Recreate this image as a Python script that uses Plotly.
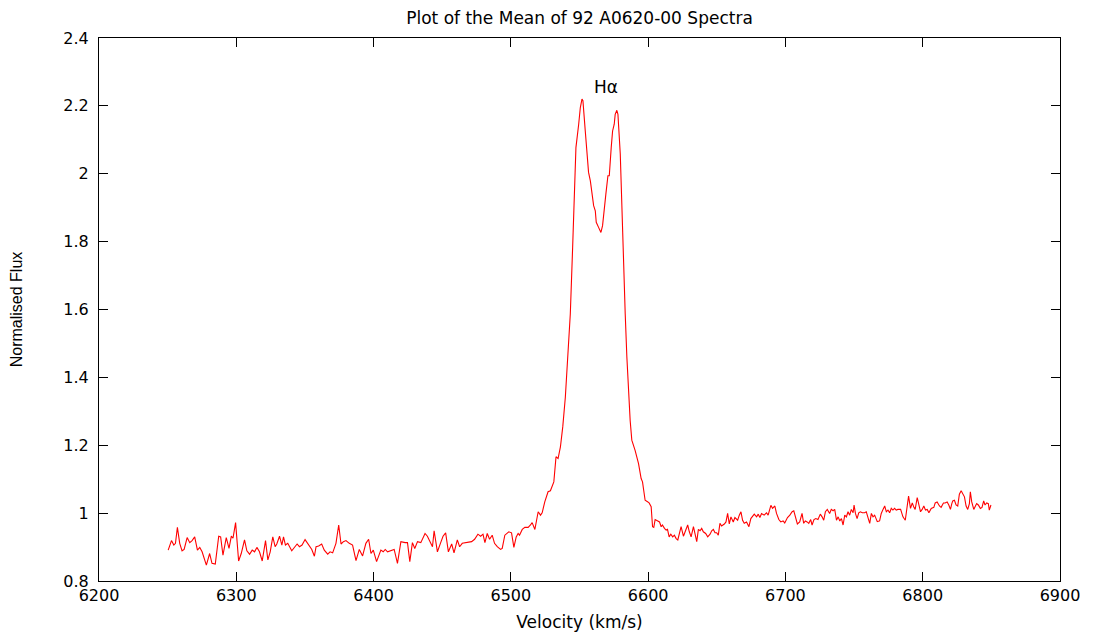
import plotly.graph_objects as go

# Mean spectrum
velocity = [
    6250.4, 6252.8, 6254.5, 6255.7, 6257.1, 6258.8, 6260.5, 6262.0, 6264.2, 6266.1,
    6267.8, 6269.7, 6271.7, 6273.4, 6275.1, 6278.2, 6280.6, 6282.3, 6284.7, 6287.2,
    6288.6, 6290.3, 6292.7, 6294.7, 6296.4, 6297.6, 6299.5, 6301.7, 6303.6, 6306.0,
    6307.7, 6309.7, 6311.6, 6313.3, 6315.0, 6316.9, 6318.9, 6321.3, 6323.0, 6324.7,
    6326.6, 6328.3, 6329.5, 6331.5, 6333.2, 6334.4, 6335.8, 6337.5, 6340.4, 6342.4,
    6344.3, 6346.0, 6347.9, 6350.1, 6352.5, 6355.0, 6356.9, 6358.1, 6360.0, 6362.2,
    6364.1, 6366.6, 6368.3, 6370.2, 6372.6, 6374.6,
    6376.3, 6378.0, 6379.9, 6382.3, 6384.7, 6387.2, 6389.6, 6392.0, 6394.4, 6396.4,
    6398.1, 6399.8, 6402.2, 6405.3, 6407.0, 6408.5, 6410.2, 6412.6, 6415.0, 6417.4,
    6419.9, 6423.0, 6424.7, 6426.4, 6428.3, 6430.0, 6432.0, 6434.4, 6437.5, 6439.2,
    6440.4, 6442.9, 6444.1, 6446.5, 6448.9, 6450.6, 6452.5, 6454.5, 6456.9, 6458.6,
    6461.0, 6462.7, 6464.6, 6467.1, 6469.0, 6471.4, 6473.6, 6476.0, 6478.0, 6479.7,
    6481.1, 6482.8, 6484.5, 6486.4, 6488.1, 6490.1, 6492.5, 6493.7, 6495.6, 6498.5,
    6500.5, 6502.2, 6503.9, 6505.3, 6506.3, 6508.3, 6510.2, 6512.6, 6514.3, 6515.5,
    6517.5, 6519.9, 6521.6, 6522.8, 6524.7, 6527.1, 6528.8, 6530.5, 6531.3, 6532.9,
    6534.4, 6536.1, 6537.8, 6539.7, 6541.6, 6543.3, 6545.0, 6546.5, 6547.4, 6549.4,
    6550.6, 6551.8, 6552.5, 6554.2, 6555.4, 6556.6, 6557.9, 6559.1, 6560.3, 6561.5,
    6562.2, 6563.9, 6565.6, 6566.8, 6568.3, 6569.2, 6570.7, 6571.7, 6573.1, 6574.1,
    6575.3, 6576.0, 6577.2, 6578.0, 6579.7, 6580.9, 6582.1, 6583.3, 6584.5, 6585.7,
    6586.9, 6588.1, 6590.5, 6593.0, 6594.9, 6595.9, 6597.8, 6599.8,
    6600.7, 6602.2, 6603.2, 6604.1, 6605.1, 6607.0, 6608.3, 6609.5, 6610.4, 6611.9,
    6613.1, 6614.1, 6615.3, 6616.5, 6617.9, 6619.1, 6620.4, 6621.6, 6622.5, 6624.0,
    6625.7, 6626.9, 6628.8, 6630.0, 6631.3, 6633.0, 6634.2, 6635.4, 6636.6, 6637.8,
    6639.0, 6640.2, 6641.9, 6643.4, 6645.1, 6646.3, 6647.5, 6648.7, 6649.9, 6651.1,
    6652.3, 6653.5, 6655.5, 6656.7, 6657.9, 6659.1, 6660.3, 6662.0, 6663.2, 6665.2,
    6666.4, 6667.6, 6668.8, 6670.0, 6671.7, 6673.4, 6674.8, 6676.1, 6677.3, 6679.0,
    6680.2, 6681.4, 6682.6, 6684.5, 6686.2, 6687.4, 6689.4, 6690.6, 6692.3, 6693.5,
    6695.2, 6696.6, 6698.3, 6699.5, 6701.5, 6703.2, 6704.9, 6706.1, 6707.3, 6708.7,
    6710.4, 6712.1, 6713.3, 6714.5, 6715.8, 6717.0, 6718.4, 6719.4, 6720.8, 6722.1,
    6723.7, 6725.4, 6726.7, 6727.9, 6729.1, 6730.5, 6732.2, 6733.4,
    6734.7, 6735.9, 6737.2, 6738.4, 6739.6, 6740.8, 6742.0, 6743.2, 6744.4, 6745.6,
    6746.8, 6748.0, 6749.3, 6750.0, 6751.0, 6752.2, 6753.4, 6754.6, 6756.0, 6757.7,
    6758.9, 6760.2, 6761.4, 6762.6, 6763.8, 6765.0, 6766.9, 6768.6, 6769.8, 6771.1,
    6772.3, 6773.5, 6774.7, 6775.9, 6777.1, 6778.3, 6779.5, 6780.7, 6781.9, 6783.9,
    6785.6, 6787.3, 6788.7, 6789.7, 6791.1, 6792.4, 6793.6, 6794.5, 6796.0, 6797.2,
    6798.4, 6799.6, 6800.8, 6802.0, 6803.3, 6804.5, 6806.2, 6808.1, 6809.1, 6810.5,
    6812.2, 6813.4, 6815.1, 6816.3, 6817.8, 6819.0, 6820.2, 6821.2, 6821.9, 6823.1,
    6824.3, 6825.5, 6826.7, 6828.0, 6829.2, 6830.4, 6831.6, 6832.8, 6834.0, 6834.7,
    6835.7, 6837.2, 6838.4, 6839.3, 6840.5, 6842.0, 6843.2, 6844.4, 6845.4, 6846.6,
    6847.8, 6848.5, 6849.7,
]

flux = [
    0.891, 0.919, 0.906, 0.911, 0.958, 0.911, 0.889, 0.893, 0.928, 0.913,
    0.919, 0.930, 0.891, 0.899, 0.886, 0.847, 0.881, 0.852, 0.850, 0.932,
    0.930, 0.876, 0.928, 0.896, 0.932, 0.926, 0.972, 0.859, 0.881, 0.921,
    0.889, 0.879, 0.891, 0.886, 0.899, 0.886, 0.859, 0.919, 0.862, 0.886,
    0.930, 0.901, 0.909, 0.932, 0.906, 0.930, 0.906, 0.911, 0.889, 0.901,
    0.909, 0.901, 0.906, 0.922, 0.906, 0.893, 0.873, 0.901, 0.903, 0.909,
    0.891, 0.879, 0.886, 0.883, 0.911, 0.965,
    0.909, 0.916, 0.919, 0.911, 0.906, 0.860, 0.893, 0.874, 0.911, 0.923,
    0.881, 0.891, 0.857, 0.891, 0.886, 0.893, 0.886, 0.889, 0.893, 0.852,
    0.916, 0.913, 0.913, 0.857, 0.913, 0.896, 0.916, 0.913, 0.940, 0.932,
    0.922, 0.901, 0.948, 0.886, 0.913, 0.932, 0.942, 0.886, 0.909, 0.883,
    0.921, 0.901, 0.911, 0.913, 0.916, 0.916, 0.923, 0.938, 0.932, 0.938,
    0.913, 0.940, 0.923, 0.935, 0.911, 0.901, 0.893, 0.896, 0.935, 0.945,
    0.942, 0.899, 0.930, 0.940, 0.935, 0.952, 0.958, 0.958, 0.965, 0.972,
    0.952, 1.004, 0.994, 1.001, 1.033, 1.063, 1.066, 1.087, 1.092, 1.166,
    1.161, 1.195, 1.254, 1.342, 1.460, 1.587, 1.783, 1.979, 2.077, 2.146,
    2.195, 2.220, 2.215, 2.126, 2.058, 2.004, 1.979, 1.940, 1.906, 1.891,
    1.857, 1.842, 1.827, 1.847, 1.896, 1.940, 1.994, 1.994, 2.077, 2.126,
    2.146, 2.175, 2.187, 2.175, 2.058, 1.881, 1.724, 1.587, 1.460, 1.352,
    1.273, 1.215, 1.185, 1.146, 1.102, 1.092, 1.038, 1.033,
    1.030, 1.019, 0.960, 0.958, 0.981, 0.977, 0.974, 0.960, 0.965, 0.955,
    0.950, 0.952, 0.930, 0.938, 0.930, 0.935, 0.925, 0.921, 0.935, 0.960,
    0.932, 0.945, 0.965, 0.945, 0.930, 0.960, 0.940, 0.916, 0.952, 0.948,
    0.955, 0.945, 0.940, 0.930, 0.938, 0.948, 0.952, 0.942, 0.942, 0.935,
    0.970, 0.962, 0.968, 0.974, 0.999, 0.968, 0.989, 0.974, 0.987, 0.979,
    0.994, 1.004, 0.979, 0.970, 0.974, 0.960, 0.984, 0.991, 0.997, 0.989,
    0.997, 0.987, 0.999, 0.994, 1.001, 0.994, 1.023, 1.014, 1.021, 0.999,
    0.981, 0.974, 0.977, 0.971, 0.987, 0.994, 1.004, 1.007, 0.989, 0.968,
    0.974, 0.999, 0.970, 0.977, 0.974, 0.970, 0.981, 0.965, 0.981, 0.984,
    0.981, 0.997, 0.989, 0.979, 1.004, 1.011, 0.999, 1.011,
    1.007, 1.011, 0.979, 0.989, 0.977, 0.984, 0.965, 0.994, 0.989, 1.004,
    0.994, 1.011, 1.001, 1.024, 0.999, 0.984, 1.001, 1.004, 1.001, 1.001,
    1.004, 0.989, 0.970, 0.999, 0.989, 0.994, 0.975, 0.977, 0.999, 1.011,
    1.021, 1.004, 1.009, 1.001, 1.014, 1.009, 1.014, 1.009, 1.011, 1.011,
    0.989, 0.979, 1.028, 1.050, 1.014, 1.030, 1.017, 1.011, 1.046, 1.021,
    1.004, 1.011, 1.021, 1.009, 1.011, 1.001, 1.014, 1.017, 1.030, 1.033,
    1.021, 1.017, 1.030, 1.030, 1.033, 1.024, 1.011, 1.028, 1.036, 1.038,
    1.024, 1.021, 1.056, 1.066, 1.056, 1.048, 1.021, 1.011, 1.028, 1.063,
    1.033, 1.011, 1.021, 1.028, 1.024, 1.014, 1.017, 1.036, 1.024, 1.030,
    1.028, 1.009, 1.024,
]

x_ticks = [6200, 6300, 6400, 6500, 6600, 6700, 6800, 6900]
y_ticks = [0.8, 1.0, 1.2, 1.4, 1.6, 1.8, 2.0, 2.2, 2.4]
y_tick_text = ["0.8", "1", "1.2", "1.4", "1.6", "1.8", "2", "2.2", "2.4"]

wide = "DejaVu Sans, Verdana, sans-serif"
narrow = "Liberation Sans, Arial, sans-serif"

fig = go.Figure()
fig.add_trace(go.Scatter(x=velocity, y=flux, mode="lines",
                         line=dict(color="#ff0000", width=1.1), showlegend=False))

# label over the line
fig.add_annotation(x=6569, y=2.255, text="Hα", showarrow=False,
                   font=dict(family=wide, size=17, color="black"))

axis_style = dict(showline=True, linecolor="black", linewidth=1, mirror="ticks",
                  ticks="inside", ticklen=9, tickcolor="black", showgrid=False,
                  zeroline=False, automargin=False,
                  tickfont=dict(family=wide, size=16, color="black"))

fig.update_xaxes(range=[6200, 6900], tickvals=x_ticks, title_text="Velocity (km/s)",
                 title_font=dict(family=wide, size=17, color="black"),
                 title_standoff=11, **axis_style)
fig.update_yaxes(range=[0.8, 2.4], tickvals=y_ticks, ticktext=y_tick_text,
                 ticklabelstandoff=6,
                 title_text="Normalised Flux",
                 title_font=dict(family=narrow, size=16, color="black"),
                 title_standoff=44, **axis_style)

# the page puts the figure 8px in from the corner, so margins are trimmed by that
fig.update_layout(
    width=1095, height=633,
    title=dict(text="Plot of the Mean of 92 A0620-00 Spectra", x=0.5, xref="paper",
               xanchor="center", y=1, yref="container", yanchor="top",
               pad=dict(t=4, b=0),
               font=dict(family=wide, size=17, color="black")),
    margin=dict(l=91, r=43, t=30, b=60),
    plot_bgcolor="white", paper_bgcolor="white",
)

fig.write_html("out.html")
